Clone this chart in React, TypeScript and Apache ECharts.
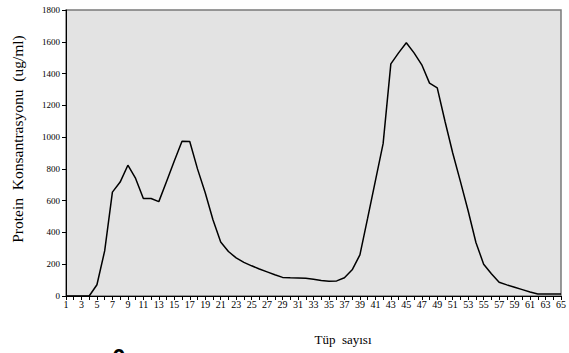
import React, { useEffect, useRef } from "react";
import * as echarts from "echarts";

const tubes: string[] = Array.from({ length: 65 }, (_, i) => String(i + 1));
const proteinValues: number[] = [
  0, 0, 0, 0, 71, 284, 654, 717, 823, 740,
  614, 614, 594, 720, 850, 974, 972, 800, 650, 480,
  340, 280, 240, 212, 190, 170, 152, 134, 117, 115,
  114, 112, 105, 97, 93, 95, 115, 165, 259, 490,
  725, 959, 1461, 1530, 1594, 1530, 1455, 1340, 1310, 1100,
  900, 720, 535, 337, 200, 140, 86, 70, 55, 40,
  25, 13, 13, 13, 13,
];
const yTitle = "Protein  Konsantrasyonu  (ug/ml)";
const xTitle = "Tüp  sayısı";

const SERIF = "'Liberation Serif', 'Times New Roman', serif";

export default function App() {
  const ref = useRef<HTMLDivElement>(null);
  useEffect(() => {
    if (!ref.current) return;
    const chart = echarts.init(ref.current, null, { renderer: "svg" });
    chart.setOption({
      animation: false,
      backgroundColor: "#ffffff",
      grid: {
        left: 66,
        right: 1,
        top: 10,
        bottom: 57,
        show: true,
        backgroundColor: "#e3e3e3",
        borderColor: "#7a7a7a",
        borderWidth: 1.5,
      },
      xAxis: {
        type: "category",
        data: tubes,
        boundaryGap: false,
        axisLine: { show: true, lineStyle: { color: "#000", width: 1 } },
        axisTick: { show: true, interval: 0, length: 4, lineStyle: { color: "#000" } },
        axisLabel: {
          interval: 1,
          fontSize: 10,
          fontFamily: SERIF,
          color: "#000000",
          margin: 3,
        },
        splitLine: { show: false },
      },
      yAxis: {
        type: "value",
        min: 0,
        max: 1800,
        interval: 200,
        axisLine: { show: true, lineStyle: { color: "#000", width: 1 } },
        axisTick: { show: true, length: 4, lineStyle: { color: "#000" } },
        axisLabel: {
          fontSize: 9,
          fontFamily: SERIF,
          color: "#000000",
          margin: 6,
          formatter: (v: number) => String(v),
        },
        splitLine: { show: false },
      },
      series: [
        {
          type: "line",
          data: proteinValues,
          symbol: "none",
          lineStyle: { color: "#000", width: 1.5 },
        },
      ],
      graphic: [
        {
          type: "text",
          x: 17,
          y: 139,
          rotation: Math.PI / 2,
          style: {
            text: yTitle,
            fontSize: 15.5,
            fontFamily: SERIF,
            fill: "#000",
            align: "center",
            verticalAlign: "middle",
          },
        },
        {
          type: "text",
          x: 343,
          y: 339,
          style: {
            text: xTitle,
            fontSize: 13,
            fontFamily: SERIF,
            fill: "#000",
            align: "center",
            verticalAlign: "middle",
          },
        },
        {
          type: "text",
          x: 119,
          y: 345,
          style: {
            text: "0",
            fontSize: 24,
            fontWeight: "bold",
            fontFamily: "'Liberation Sans', Arial, sans-serif",
            fill: "#000",
            align: "center",
            verticalAlign: "top",
          },
        },
      ],
    });
    return () => chart.dispose();
  }, []);
  return <div ref={ref} style={{ width: 569, height: 353, position: "fixed", left: 0, top: 0 }} />;
}
